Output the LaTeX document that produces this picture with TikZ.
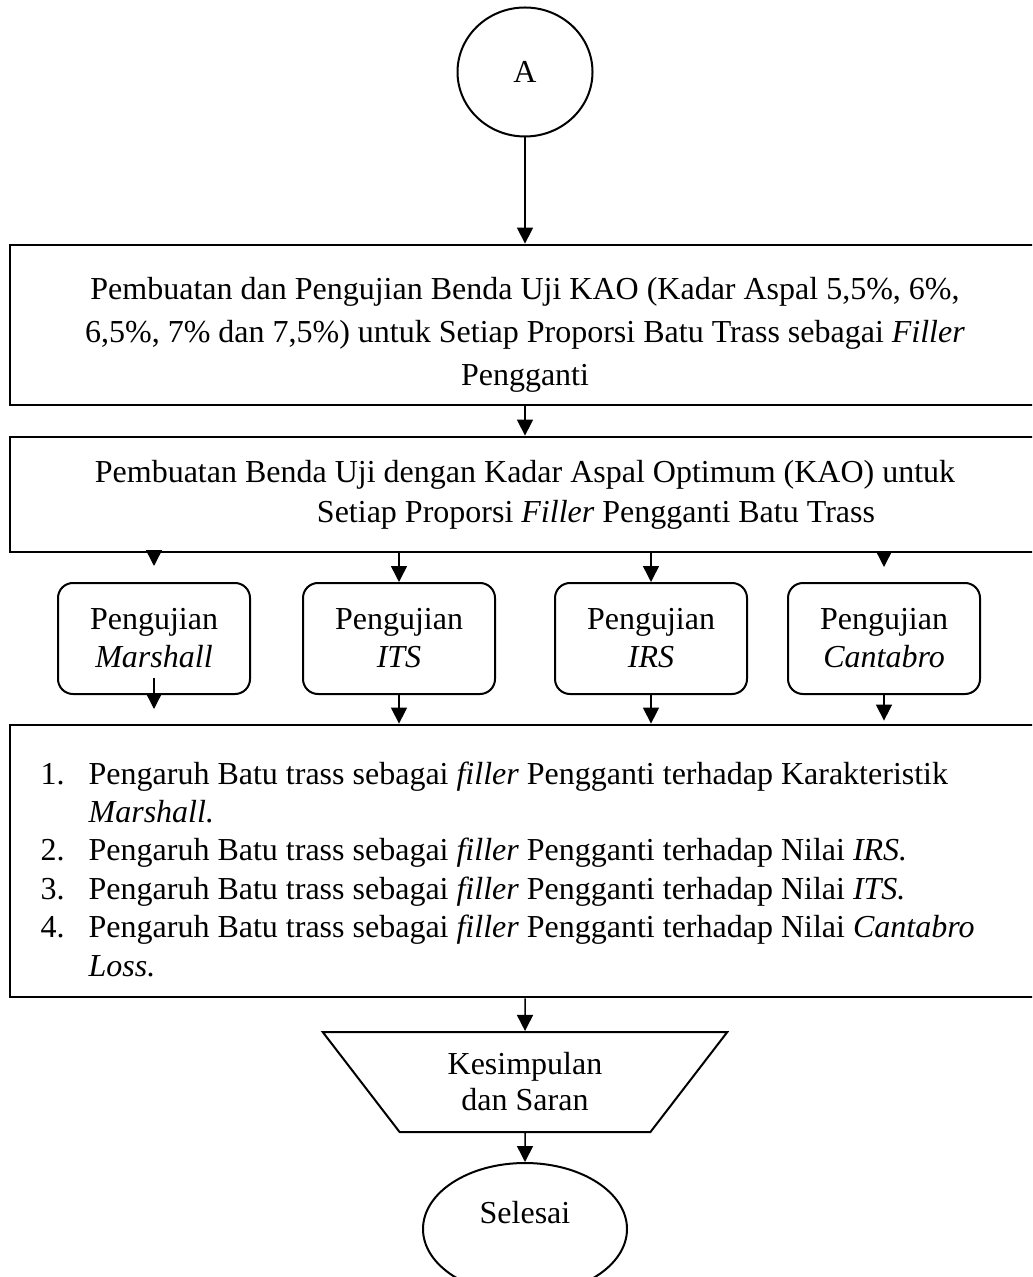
\documentclass[tikz,border=0pt]{standalone}
\usepackage{fontspec}
\setmainfont{Liberation Serif}
\usetikzlibrary{shapes.geometric,arrows.meta}
\begin{document}
\begin{tikzpicture}[x=0.5pt,y=-0.5pt,
  every node/.style={font=\fontsize{16}{21}\selectfont},
  bigbox/.style={draw,line width=1.4pt,rectangle,inner sep=0pt,minimum width=515pt},
  testbox/.style={draw,line width=1pt,rounded corners=7.5pt,minimum width=96pt,minimum height=55.5pt,align=center,inner sep=0pt,font=\fontsize{16}{19}\selectfont},
  arr/.style={line width=0.75pt,-{Triangle[width=8pt,length=8pt]}},
]
\useasboundingbox (0,0) rectangle (1032,1277);
\clip (0,0) rectangle (1032,1277);

\node[draw,ellipse,line width=1pt,minimum width=67.5pt,minimum height=64.5pt,inner sep=0pt] (A) at (525,72) {A};

\node[bigbox,minimum height=80pt,
  label={[yshift=-5pt,align=center,font=\fontsize{16}{21.5}\selectfont]center:Pembuatan dan Pengujian Benda Uji KAO (Kadar Aspal 5,5\%, 6\%,\\6,5\%, 7\% dan 7,5\%) untuk Setiap Proporsi Batu Trass sebagai \textit{Filler}\\Pengganti}] (b1) at (525,325) {};

\node[bigbox,minimum height=57.5pt,align=center,font=\fontsize{16}{20}\selectfont] (b2) at (525,494.5)
  {Pembuatan Benda Uji dengan Kadar Aspal Optimum (KAO) untuk\\\hspace*{71pt}Setiap Proporsi \textit{Filler} Pengganti Batu Trass};

\node[testbox] (t1) at (154,638.5) {Pengujian\\\textit{Marshall}};
\node[testbox] (t2) at (399,638.5) {Pengujian\\\textit{ITS}};
\node[testbox] (t3) at (651,638.5) {Pengujian\\\textit{IRS}};
\node[testbox] (t4) at (884,638.5) {Pengujian\\\textit{Cantabro}};

\node[bigbox,minimum height=136pt,
  label={[anchor=west,xshift=12.5pt,yshift=-4pt,align=left,font=\fontsize{16}{19.2}\selectfont]west:%
\makebox[24pt][l]{1.}Pengaruh Batu trass sebagai \textit{filler} Pengganti terhadap Karakteristik\\
\hspace*{24pt}\textit{Marshall.}\\
\makebox[24pt][l]{2.}Pengaruh Batu trass sebagai \textit{filler} Pengganti terhadap Nilai \textit{IRS.}\\
\makebox[24pt][l]{3.}Pengaruh Batu trass sebagai \textit{filler} Pengganti terhadap Nilai \textit{ITS.}\\
\makebox[24pt][l]{4.}Pengaruh Batu trass sebagai \textit{filler} Pengganti terhadap Nilai \textit{Cantabro}\\
\hspace*{24pt}\textit{Loss.}}] (b5) at (525,861) {};

\node[draw,trapezium,shape border rotate=180,trapezium angle=51,trapezium stretches=true,
  minimum width=202.5pt,minimum height=50pt,line width=1pt,inner sep=0pt,align=center,
  font=\fontsize{16}{18}\selectfont] (k) at (525,1082) {Kesimpulan\\dan Saran};

\node[draw,ellipse,line width=1pt,minimum width=102pt,minimum height=66pt,
  label={[yshift=8pt]center:Selesai}] (s) at (525,1229) {};

\draw[arr] (A.south) -- (b1.north);
\draw[arr] (b1.south) -- (b2.north);
\draw[arr] (t1.north |- b2.south) -- ([yshift=8pt]t1.north);
\draw[arr] (t2.north |- b2.south) -- (t2.north);
\draw[arr] (t3.north |- b2.south) -- (t3.north);
\draw[arr] (t4.north |- b2.south) -- ([yshift=7.5pt]t4.north);
\draw[arr] ([yshift=8.5pt]t1.south) -- ([yshift=-7pt]t1.south);
\draw[arr] (t2.south) -- (t2.south |- b5.north);
\draw[arr] (t3.south) -- (t3.south |- b5.north);
\draw[arr] ([yshift=1pt]t4.south) -- ([yshift=1.5pt]t4.south |- b5.north);
\draw[arr] (b5.south) -- (k.north);
\draw[arr] (k.south) -- (s.north);
\end{tikzpicture}
\end{document}
